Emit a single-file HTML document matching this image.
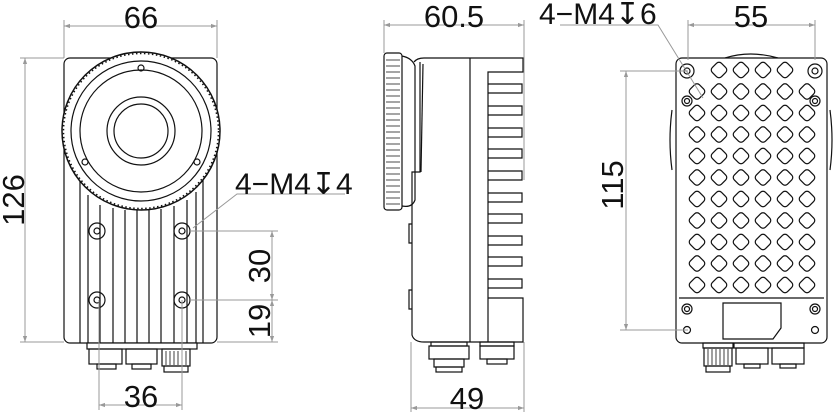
<!DOCTYPE html>
<html><head><meta charset="utf-8"><style>
html,body{margin:0;padding:0;background:#fff;}
svg{display:block;}
text{font-family:"Liberation Sans","DejaVu Sans",sans-serif;fill:#111;}
</style></head><body>
<svg width="833" height="415" viewBox="0 0 833 415" xmlns="http://www.w3.org/2000/svg">
<defs>
<pattern id="dia" x="686" y="81" width="22" height="21.5" patternUnits="userSpaceOnUse">
<rect x="4.5" y="4" width="13" height="13" rx="3.5" transform="rotate(45 11 10.5)" fill="none" stroke="#111" stroke-width="1.2"/>
</pattern>
<marker id="ar" viewBox="0 0 10 10" refX="10" refY="5" markerWidth="9" markerHeight="6" orient="auto-start-reverse" markerUnits="userSpaceOnUse">
<path d="M0,1.5 L10,5 L0,8.5 Z" fill="#999"/>
</marker>
</defs>

<!-- ===== FRONT VIEW ===== -->
<g fill="none" stroke="#111" stroke-width="1.2">
<rect x="64" y="58" width="153" height="285" rx="6"/>
<path d="M80 180 V343 M203 180 V343"/>
<path d="M88 195 V343 M100 205 V343 M113 208 V343 M125 210 V343 M137 210 V343 M149 210 V343 M161 209 V343 M174 206 V343 M187 200 V343 M196 192 V343"/>
<rect x="87" y="343" width="110" height="6" fill="#fff"/>
<circle cx="141" cy="131" r="79" fill="#fff" stroke-width="1.5"/>
<circle cx="141" cy="131" r="77.5" stroke-width="1.5" stroke-dasharray="1.5 2.5"/>
<circle cx="141" cy="131" r="70"/>
<circle cx="141" cy="131" r="61"/>
<circle cx="141" cy="131" r="34"/>
<circle cx="141" cy="131" r="27"/>
<circle cx="141" cy="68" r="3"/>
<circle cx="85" cy="162" r="3"/>
<circle cx="197" cy="162" r="3"/>
<circle cx="97" cy="231" r="8"/><circle cx="97" cy="231" r="3"/>
<circle cx="182" cy="231" r="8"/><circle cx="182" cy="231" r="3"/>
<circle cx="97" cy="300" r="8"/><circle cx="97" cy="300" r="3"/>
<circle cx="182" cy="300" r="8"/><circle cx="182" cy="300" r="3"/>
<rect x="89" y="349" width="33" height="15"/><rect x="97" y="364" width="19" height="5"/>
<rect x="126" y="349" width="31" height="15"/><rect x="132" y="364" width="19" height="5"/>
<rect x="162" y="349" width="28" height="17"/><rect x="164" y="366" width="24" height="6"/>
<path d="M166 351 V365 M170 351 V365 M174 351 V365 M178 351 V365 M182 351 V365 M186 351 V365" stroke-width="0.8"/>
</g>
<g stroke="#999" stroke-width="1" fill="none">
<path d="M64 20 V58 M217 20 V58"/>
<line x1="64" y1="26" x2="217" y2="26" marker-start="url(#ar)" marker-end="url(#ar)"/>
<path d="M20 58 H64 M20 342 H64"/>
<line x1="25" y1="58" x2="25" y2="342" marker-start="url(#ar)" marker-end="url(#ar)"/>
<path d="M99 300 V410 M182 300 V410"/>
<line x1="99" y1="405" x2="182" y2="405" marker-start="url(#ar)" marker-end="url(#ar)"/>
<path d="M190 231 H278 M190 300 H278 M217 342 H278"/>
<line x1="272" y1="231" x2="272" y2="300" marker-start="url(#ar)" marker-end="url(#ar)"/>
<line x1="272" y1="300" x2="272" y2="342" marker-start="url(#ar)" marker-end="url(#ar)"/>
<path d="M345 194 H237 L193 228"/>
</g>
<text x="141" y="28" font-size="31" text-anchor="middle">66</text>
<text x="141" y="407" font-size="31" text-anchor="middle">36</text>
<text transform="translate(24 200) rotate(-90)" font-size="31" text-anchor="middle">126</text>
<text transform="translate(270 266) rotate(-90)" font-size="31" text-anchor="middle">30</text>
<text transform="translate(270 321) rotate(-90)" font-size="31" text-anchor="middle">19</text>
<text x="235" y="194" font-size="30">4−M4↧4</text>

<!-- ===== SIDE VIEW ===== -->
<g fill="none" stroke="#111" stroke-width="1.2">
<rect x="384" y="53" width="18" height="157" rx="3"/>
<path stroke-width="0.8" d="M386 60 H400 M386 66 H400 M386 72 H400 M386 78 H400 M386 84 H400 M386 90 H400 M386 96 H400 M386 102 H400 M386 108 H400 M386 114 H400 M386 120 H400 M386 126 H400 M386 132 H400 M386 138 H400 M386 144 H400 M386 150 H400 M386 156 H400 M386 162 H400 M386 168 H400 M386 174 H400 M386 180 H400 M386 186 H400 M386 192 H400 M386 198 H400 M386 204 H400"/>
<path d="M402 56 Q412 58 415 66 V200 Q412 208 402 206"/>
<path d="M414 62 Q417 58 424 58 H523 V72 H488 V342 M488 298 H523 V342 H424 Q414 342 412 335 V172 H420 V62"/>
<path d="M470 58 V342"/>
<path d="M423 64 Q422 120 421 172"/>
<path d="M488 84 H522 V93 H488 M488 106 H522 V115 H488 M488 128 H522 V137 H488 M488 149 H522 V158 H488 M488 171 H522 V180 H488 M488 193 H522 V202 H488 M488 214 H522 V223 H488 M488 236 H522 V245 H488 M488 257 H522 V266 H488 M488 279 H522 V288 H488"/>
<path d="M412 224 H409 V243 H412 M412 290 H409 V309 H412"/>
<rect x="431" y="342" width="36" height="4"/>
<rect x="429" y="346" width="40" height="13"/>
<rect x="434" y="359" width="30" height="8"/><rect x="436" y="367" width="26" height="5"/>
<rect x="480" y="342" width="34" height="4"/>
<rect x="480" y="346" width="34" height="13"/><rect x="487" y="359" width="20" height="5"/>
</g>
<g stroke="#999" stroke-width="1" fill="none">
<path d="M384 20 V53 M524 20 V180"/>
<line x1="384" y1="25" x2="524" y2="25" marker-start="url(#ar)" marker-end="url(#ar)"/>
<path d="M411 342 V412 M524 342 V412"/>
<line x1="411" y1="408" x2="524" y2="408" marker-start="url(#ar)" marker-end="url(#ar)"/>
</g>
<text x="454" y="27" font-size="31" text-anchor="middle">60.5</text>
<text x="467" y="409" font-size="31" text-anchor="middle">49</text>

<!-- ===== BACK VIEW ===== -->
<g fill="none" stroke="#111" stroke-width="1.2">
<path d="M672 110 Q668 140 672 170 M830 110 Q834 140 830 170" stroke-width="1.2"/>
<path d="M725 58 Q750 50 778 58"/>
<rect x="676" y="58" width="151" height="285" rx="6" fill="#fff"/>
<path d="M679 298 H824"/>
<rect x="686" y="81" width="132" height="215" fill="url(#dia)" stroke="none"/>
<rect x="708" y="60" width="88" height="21" fill="url(#dia)" stroke="none"/>
<circle cx="687" cy="71" r="7"/><circle cx="687" cy="71" r="3"/>
<circle cx="815" cy="71" r="7"/><circle cx="815" cy="71" r="3"/>
<circle cx="687" cy="101" r="5"/><circle cx="687" cy="101" r="2.5"/>
<circle cx="815" cy="101" r="5"/><circle cx="815" cy="101" r="2.5"/>
<path d="M723 303 H781 V328 L773 339 H723 Z"/>
<circle cx="687" cy="309" r="5"/><circle cx="687" cy="309" r="2.5"/>
<circle cx="815" cy="309" r="5"/><circle cx="815" cy="309" r="2.5"/>
<circle cx="687" cy="330" r="3.5"/><circle cx="815" cy="330" r="3.5"/>
<rect x="703" y="343" width="30" height="5"/>
<rect x="704" y="348" width="28" height="18"/><rect x="706" y="366" width="24" height="6"/>
<path d="M708 349 V365 M712 349 V365 M716 349 V365 M720 349 V365 M724 349 V365 M728 349 V365" stroke-width="0.8"/>
<rect x="734" y="343" width="70" height="5"/>
<rect x="736" y="348" width="32" height="16"/><rect x="744" y="364" width="16" height="4"/>
<rect x="772" y="348" width="32" height="16"/><rect x="780" y="364" width="16" height="4"/>
</g>
<g stroke="#999" stroke-width="1" fill="none">
<path d="M688 20 V60 M815 20 V60"/>
<line x1="688" y1="25" x2="815" y2="25" marker-start="url(#ar)" marker-end="url(#ar)"/>
<path d="M620 71 H688 M620 330 H688"/>
<line x1="626" y1="71" x2="626" y2="330" marker-start="url(#ar)" marker-end="url(#ar)"/>
<path d="M560 25 H658 L703 98"/>
</g>
<text x="751" y="27" font-size="31" text-anchor="middle">55</text>
<text transform="translate(623 185) rotate(-90)" font-size="31" text-anchor="middle">115</text>
<text x="539" y="24" font-size="30">4−M4↧6</text>
</svg>
</body></html>
